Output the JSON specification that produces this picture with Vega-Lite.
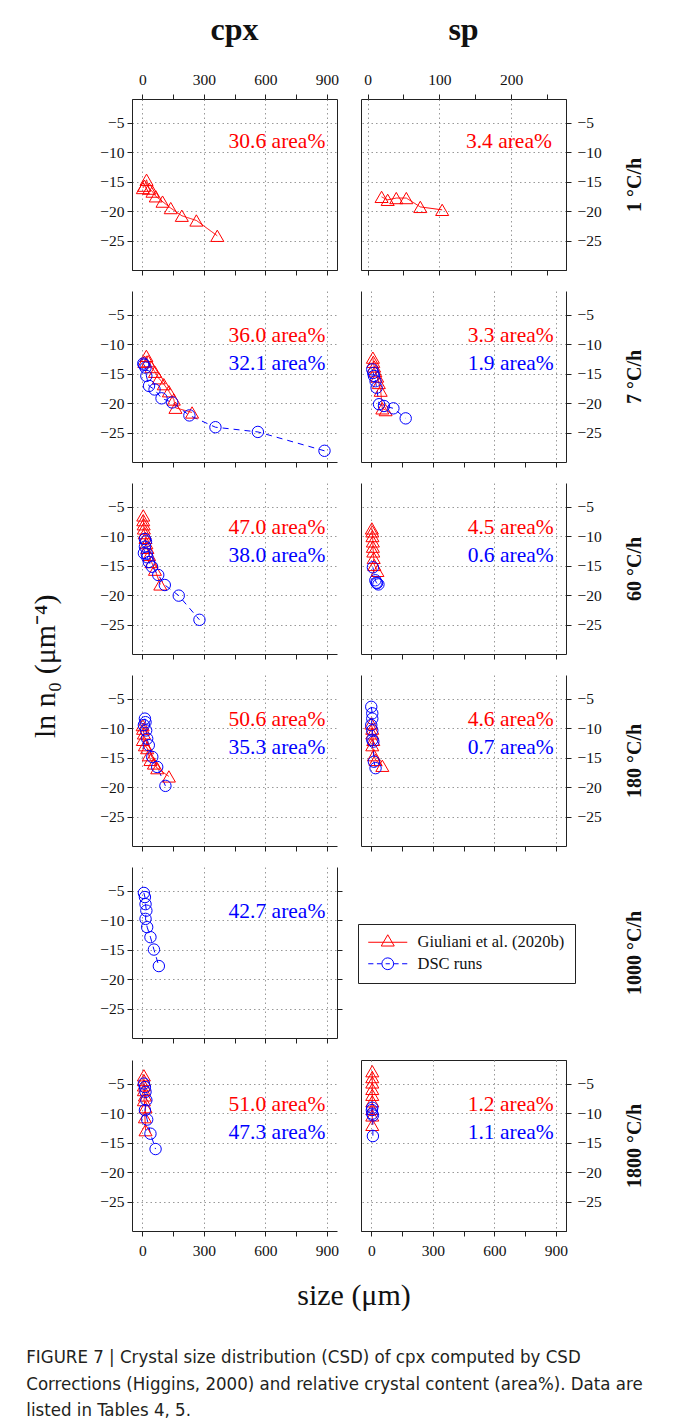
{
"$schema":"https://vega.github.io/schema/vega-lite/v6.json",
"background":"white",
"padding":{"left":26,"top":13,"right":4,"bottom":2},
"config":{"font":"Liberation Serif","view":{"stroke":null},
"axis":{"labelFont":"Liberation Serif","labelFontSize":15.5,"labelColor":"#111","domainColor":"#222","tickColor":"#222","tickSize":5,"gridDash":[1.5,3],"gridColor":"#999","gridWidth":1,"labelFlush":false,"labelOverlap":false,"titleFont":"Liberation Serif","titleColor":"#111"},
"point":{"opacity":1},"title":{"font":"Liberation Serif","color":"#111"}},
"datasets":{
"pts":[
{"p":"c1","s":"G","i":1,"x":3,"y":-16.1},{"p":"c1","s":"G","i":2,"x":10,"y":-15.7},{"p":"c1","s":"G","i":3,"x":21,"y":-14.7},{"p":"c1","s":"G","i":4,"x":34,"y":-16.2},{"p":"c1","s":"G","i":5,"x":50,"y":-16.7},{"p":"c1","s":"G","i":6,"x":66,"y":-17.5},{"p":"c1","s":"G","i":7,"x":99,"y":-18.4},{"p":"c1","s":"G","i":8,"x":139,"y":-19.5},{"p":"c1","s":"G","i":9,"x":193,"y":-20.8},{"p":"c1","s":"G","i":10,"x":264,"y":-21.6},{"p":"c1","s":"G","i":11,"x":366,"y":-24.2},
{"p":"s1","s":"G","i":1,"x":19.5,"y":-17.6},{"p":"s1","s":"G","i":2,"x":28,"y":-18.1},{"p":"s1","s":"G","i":3,"x":40,"y":-17.8},{"p":"s1","s":"G","i":4,"x":54,"y":-17.8},{"p":"s1","s":"G","i":5,"x":73.5,"y":-19.3},{"p":"s1","s":"G","i":6,"x":104,"y":-19.8},
{"p":"c2","s":"G","i":1,"x":10,"y":-13.0},{"p":"c2","s":"G","i":2,"x":20,"y":-12.0},{"p":"c2","s":"G","i":3,"x":29,"y":-12.9},{"p":"c2","s":"G","i":4,"x":45,"y":-13.9},{"p":"c2","s":"G","i":5,"x":62,"y":-14.7},{"p":"c2","s":"G","i":6,"x":81,"y":-15.8},{"p":"c2","s":"G","i":7,"x":105,"y":-16.8},{"p":"c2","s":"G","i":8,"x":130,"y":-18.0},{"p":"c2","s":"G","i":9,"x":154,"y":-19.4},{"p":"c2","s":"G","i":10,"x":162,"y":-20.8},{"p":"c2","s":"G","i":11,"x":243,"y":-21.6},
{"p":"c2","s":"D","i":1,"x":5,"y":-13.3},{"p":"c2","s":"D","i":2,"x":8,"y":-13.5},{"p":"c2","s":"D","i":3,"x":16,"y":-14.0},{"p":"c2","s":"D","i":4,"x":20,"y":-15.4},{"p":"c2","s":"D","i":5,"x":33,"y":-17.1},{"p":"c2","s":"D","i":6,"x":60,"y":-17.7},{"p":"c2","s":"D","i":7,"x":94,"y":-19.2},{"p":"c2","s":"D","i":8,"x":146,"y":-19.9},{"p":"c2","s":"D","i":9,"x":230,"y":-22.1},{"p":"c2","s":"D","i":10,"x":357,"y":-24.1},{"p":"c2","s":"D","i":11,"x":564,"y":-24.9},{"p":"c2","s":"D","i":12,"x":889,"y":-28.1},
{"p":"s2","s":"G","i":1,"x":8,"y":-12.3},{"p":"s2","s":"G","i":2,"x":10,"y":-13.0},{"p":"s2","s":"G","i":3,"x":14,"y":-13.8},{"p":"s2","s":"G","i":4,"x":20,"y":-14.6},{"p":"s2","s":"G","i":5,"x":29,"y":-15.5},{"p":"s2","s":"G","i":6,"x":37,"y":-16.6},{"p":"s2","s":"G","i":7,"x":46,"y":-17.9},{"p":"s2","s":"G","i":8,"x":54,"y":-20.9},{"p":"s2","s":"G","i":9,"x":70,"y":-21.2},
{"p":"s2","s":"D","i":1,"x":5,"y":-14.3},{"p":"s2","s":"D","i":2,"x":10,"y":-14.9},{"p":"s2","s":"D","i":3,"x":13,"y":-15.4},{"p":"s2","s":"D","i":4,"x":21,"y":-16.3},{"p":"s2","s":"D","i":5,"x":26,"y":-17.4},{"p":"s2","s":"D","i":6,"x":38,"y":-20.2},{"p":"s2","s":"D","i":7,"x":62,"y":-20.5},{"p":"s2","s":"D","i":8,"x":108,"y":-20.9},{"p":"s2","s":"D","i":9,"x":168,"y":-22.6},
{"p":"c3","s":"G","i":1,"x":5,"y":-6.5},{"p":"c3","s":"G","i":2,"x":5,"y":-7.3},{"p":"c3","s":"G","i":3,"x":7,"y":-8.0},{"p":"c3","s":"G","i":4,"x":8,"y":-8.7},{"p":"c3","s":"G","i":5,"x":12,"y":-9.5},{"p":"c3","s":"G","i":6,"x":16,"y":-10.3},{"p":"c3","s":"G","i":7,"x":20,"y":-11.2},{"p":"c3","s":"G","i":8,"x":25,"y":-12.0},{"p":"c3","s":"G","i":9,"x":33,"y":-13.2},{"p":"c3","s":"G","i":10,"x":45,"y":-14.4},{"p":"c3","s":"G","i":11,"x":62,"y":-15.7},{"p":"c3","s":"G","i":12,"x":88,"y":-18.2},
{"p":"c3","s":"D","i":1,"x":13,"y":-10.5},{"p":"c3","s":"D","i":2,"x":18,"y":-10.9},{"p":"c3","s":"D","i":3,"x":13,"y":-11.8},{"p":"c3","s":"D","i":4,"x":8,"y":-12.9},{"p":"c3","s":"D","i":5,"x":22,"y":-13.0},{"p":"c3","s":"D","i":6,"x":25,"y":-13.6},{"p":"c3","s":"D","i":7,"x":32,"y":-14.4},{"p":"c3","s":"D","i":8,"x":48,"y":-15.2},{"p":"c3","s":"D","i":9,"x":78,"y":-16.6},{"p":"c3","s":"D","i":10,"x":110,"y":-18.3},{"p":"c3","s":"D","i":11,"x":178,"y":-20.1},{"p":"c3","s":"D","i":12,"x":279,"y":-24.2},
{"p":"s3","s":"G","i":1,"x":3,"y":-8.7},{"p":"s3","s":"G","i":2,"x":5,"y":-9.2},{"p":"s3","s":"G","i":3,"x":6,"y":-10.0},{"p":"s3","s":"G","i":4,"x":8,"y":-10.9},{"p":"s3","s":"G","i":5,"x":8,"y":-11.8},{"p":"s3","s":"G","i":6,"x":10,"y":-12.6},{"p":"s3","s":"G","i":7,"x":12,"y":-13.7},{"p":"s3","s":"G","i":8,"x":15,"y":-14.9},{"p":"s3","s":"G","i":9,"x":30,"y":-15.9},
{"p":"s3","s":"D","i":1,"x":8,"y":-15.3},{"p":"s3","s":"D","i":2,"x":20,"y":-17.5},{"p":"s3","s":"D","i":3,"x":25,"y":-17.9},{"p":"s3","s":"D","i":4,"x":28,"y":-18.0},{"p":"s3","s":"D","i":5,"x":35,"y":-18.2},
{"p":"c4","s":"G","i":1,"x":2,"y":-9.5},{"p":"c4","s":"G","i":2,"x":4,"y":-10.1},{"p":"c4","s":"G","i":3,"x":8,"y":-10.9},{"p":"c4","s":"G","i":4,"x":3,"y":-12.0},{"p":"c4","s":"G","i":5,"x":13,"y":-12.9},{"p":"c4","s":"G","i":6,"x":24,"y":-13.4},{"p":"c4","s":"G","i":7,"x":32,"y":-14.6},{"p":"c4","s":"G","i":8,"x":40,"y":-15.4},{"p":"c4","s":"G","i":9,"x":57,"y":-16.0},{"p":"c4","s":"G","i":10,"x":73,"y":-16.8},{"p":"c4","s":"G","i":11,"x":130,"y":-18.2},
{"p":"c4","s":"D","i":1,"x":13,"y":-8.4},{"p":"c4","s":"D","i":2,"x":16,"y":-9.0},{"p":"c4","s":"D","i":3,"x":8,"y":-9.5},{"p":"c4","s":"D","i":4,"x":19,"y":-10.4},{"p":"c4","s":"D","i":5,"x":24,"y":-11.8},{"p":"c4","s":"D","i":6,"x":32,"y":-12.9},{"p":"c4","s":"D","i":7,"x":49,"y":-14.9},{"p":"c4","s":"D","i":8,"x":73,"y":-16.6},{"p":"c4","s":"D","i":9,"x":113,"y":-19.8},
{"p":"s4","s":"G","i":1,"x":0,"y":-9.2},{"p":"s4","s":"G","i":2,"x":5,"y":-10.1},{"p":"s4","s":"G","i":3,"x":5,"y":-10.9},{"p":"s4","s":"G","i":4,"x":10,"y":-12.0},{"p":"s4","s":"G","i":5,"x":5,"y":-12.9},{"p":"s4","s":"G","i":6,"x":13,"y":-14.6},{"p":"s4","s":"G","i":7,"x":21,"y":-15.4},{"p":"s4","s":"G","i":8,"x":54,"y":-16.4},
{"p":"s4","s":"D","i":1,"x":0,"y":-6.4},{"p":"s4","s":"D","i":2,"x":5,"y":-7.5},{"p":"s4","s":"D","i":3,"x":5,"y":-8.4},{"p":"s4","s":"D","i":4,"x":0,"y":-9.5},{"p":"s4","s":"D","i":5,"x":5,"y":-10.4},{"p":"s4","s":"D","i":6,"x":5,"y":-12.0},{"p":"s4","s":"D","i":7,"x":10,"y":-12.3},{"p":"s4","s":"D","i":8,"x":13,"y":-15.7},{"p":"s4","s":"D","i":9,"x":21,"y":-16.8},
{"p":"c5","s":"D","i":1,"x":8,"y":-5.4},{"p":"c5","s":"D","i":2,"x":13,"y":-6.1},{"p":"c5","s":"D","i":3,"x":16,"y":-7.3},{"p":"c5","s":"D","i":4,"x":20,"y":-8.4},{"p":"c5","s":"D","i":5,"x":16,"y":-9.8},{"p":"c5","s":"D","i":6,"x":24,"y":-11.2},{"p":"c5","s":"D","i":7,"x":40,"y":-12.9},{"p":"c5","s":"D","i":8,"x":57,"y":-15.0},{"p":"c5","s":"D","i":9,"x":81,"y":-17.8},
{"p":"c6","s":"G","i":1,"x":8,"y":-3.6},{"p":"c6","s":"G","i":2,"x":8,"y":-4.4},{"p":"c6","s":"G","i":3,"x":8,"y":-5.3},{"p":"c6","s":"G","i":4,"x":8,"y":-6.1},{"p":"c6","s":"G","i":5,"x":13,"y":-7.0},{"p":"c6","s":"G","i":6,"x":8,"y":-7.8},{"p":"c6","s":"G","i":7,"x":16,"y":-9.0},{"p":"c6","s":"G","i":8,"x":13,"y":-10.7},{"p":"c6","s":"G","i":9,"x":16,"y":-12.9},
{"p":"c6","s":"D","i":1,"x":8,"y":-5.0},{"p":"c6","s":"D","i":2,"x":13,"y":-5.6},{"p":"c6","s":"D","i":3,"x":16,"y":-6.4},{"p":"c6","s":"D","i":4,"x":20,"y":-7.8},{"p":"c6","s":"D","i":5,"x":13,"y":-9.5},{"p":"c6","s":"D","i":6,"x":24,"y":-11.1},{"p":"c6","s":"D","i":7,"x":40,"y":-13.5},{"p":"c6","s":"D","i":8,"x":65,"y":-16.1},
{"p":"s6","s":"G","i":1,"x":5,"y":-2.9},{"p":"s6","s":"G","i":2,"x":5,"y":-3.9},{"p":"s6","s":"G","i":3,"x":5,"y":-4.8},{"p":"s6","s":"G","i":4,"x":5,"y":-5.9},{"p":"s6","s":"G","i":5,"x":5,"y":-6.9},{"p":"s6","s":"G","i":6,"x":5,"y":-8.0},{"p":"s6","s":"G","i":7,"x":5,"y":-9.3},{"p":"s6","s":"G","i":8,"x":5,"y":-10.4},{"p":"s6","s":"G","i":9,"x":5,"y":-12.0},
{"p":"s6","s":"D","i":1,"x":5,"y":-9.1},{"p":"s6","s":"D","i":2,"x":3,"y":-9.5},{"p":"s6","s":"D","i":3,"x":5,"y":-10.1},{"p":"s6","s":"D","i":4,"x":8,"y":-10.4},{"p":"s6","s":"D","i":5,"x":8,"y":-13.9}
],
"lab":[
{"p":"c1","s":"G","t":"30.6 area%"},{"p":"s1","s":"G","t":"3.4 area%"},
{"p":"c2","s":"G","t":"36.0 area%"},{"p":"c2","s":"D","t":"32.1 area%"},
{"p":"s2","s":"G","t":"3.3 area%"},{"p":"s2","s":"D","t":"1.9 area%"},
{"p":"c3","s":"G","t":"47.0 area%"},{"p":"c3","s":"D","t":"38.0 area%"},
{"p":"s3","s":"G","t":"4.5 area%"},{"p":"s3","s":"D","t":"0.6 area%"},
{"p":"c4","s":"G","t":"50.6 area%"},{"p":"c4","s":"D","t":"35.3 area%"},
{"p":"s4","s":"G","t":"4.6 area%"},{"p":"s4","s":"D","t":"0.7 area%"},
{"p":"c5","s":"D","t":"42.7 area%"},
{"p":"c6","s":"G","t":"51.0 area%"},{"p":"c6","s":"D","t":"47.3 area%"},
{"p":"s6","s":"G","t":"1.2 area%"},{"p":"s6","s":"D","t":"1.1 area%"}
]},
"title":{"text":["FIGURE 7 | Crystal size distribution (CSD) of cpx computed by CSD","Corrections (Higgins, 2000) and relative crystal content (area%). Data are","listed in Tables 4, 5."],"orient":"bottom","anchor":"start","font":"DejaVu Sans Condensed, Liberation Sans, sans-serif","fontSize":18.5,"fontWeight":"normal","lineHeight":26.5,"color":"#231f20","offset":37,"dx":-5},
"vconcat":[{
"title":{"text":"size (μm)","orient":"bottom","anchor":"middle","fontSize":30,"fontWeight":"normal","font":"Liberation Serif","offset":22,"dx":16},
"vconcat":[{
"title":{"text":"ln n₀ (μm⁻⁴)","orient":"left","anchor":"middle","fontSize":30,"fontWeight":"normal","font":"Liberation Serif","offset":38,"dx":-30},
"spacing":15,
"vconcat":[
{"spacing":24,"bounds":"flush","hconcat":[
{"width":205,"height":171,"view":{"stroke":"#222"},
"title":{"text":"cpx","fontSize":32,"fontWeight":"bold","font":"Liberation Serif","offset":25},
"resolve":{"axis":{"x":"independent","y":"independent"}},
"layer":[
{"data":{"name":"pts"},"transform":[{"filter":"datum.p==='c1'"}],"mark":{"type":"line","strokeWidth":1},
"encoding":{"x":{"field":"x","type":"quantitative","scale":{"domain":[-50,950],"nice":false,"zero":false},"axis":{"orient":"bottom","values":[0,150,300,450,600,750,900],"labels":false,"grid":true,"gridOpacity":{"condition":{"test":"datum.value % 300 === 0","value":1},"value":0},"title":null}},
"y":{"field":"y","type":"quantitative","scale":{"domain":[-30,-1],"nice":false,"zero":false},"axis":{"orient":"left","values":[-5,-10,-15,-20,-25],"labelPadding":3,"grid":true,"title":null}},
"detail":{"field":"s"},"order":{"field":"i","type":"quantitative"},
"color":{"condition":{"test":"datum.s==='G'","value":"#ff0000"},"value":"#0000ff"},
"strokeDash":{"condition":{"test":"datum.s==='D'","value":[6,5]},"value":[1,0]}}},
{"data":{"name":"pts"},"transform":[{"filter":"datum.p==='c1'"}],"mark":{"type":"point","filled":false,"strokeWidth":1,"opacity":1},
"encoding":{"x":{"field":"x","type":"quantitative","axis":{"orient":"top","values":[0,150,300,450,600,750,900],"labelExpr":"datum.value % 300 === 0 ? datum.label : ''","labelPadding":7,"grid":false,"domain":false,"title":null}},
"y":{"field":"y","type":"quantitative","axis":null},
"shape":{"condition":{"test":"datum.s==='G'","value":"triangle-up"},"value":"circle"},
"size":{"condition":{"test":"datum.s==='G'","value":170},"value":130},
"color":{"condition":{"test":"datum.s==='G'","value":"#ff0000"},"value":"#0000ff"}}},
{"data":{"name":"lab"},"transform":[{"filter":"datum.p==='c1' && datum.s==='G'"}],"mark":{"type":"text","align":"right","baseline":"middle","font":"Liberation Serif","fontSize":21.5,"color":"#ff0000"},
"encoding":{"x":{"datum":893,"type":"quantitative","axis":null},"y":{"datum":-8.3,"type":"quantitative","axis":null},"text":{"field":"t"}}}
]},
{"width":205,"height":171,"view":{"stroke":"#222"},
"title":{"text":"sp","fontSize":32,"fontWeight":"bold","font":"Liberation Serif","offset":25},
"resolve":{"axis":{"x":"independent","y":"independent"}},
"layer":[
{"data":{"name":"pts"},"transform":[{"filter":"datum.p==='s1'"}],"mark":{"type":"line","strokeWidth":1},
"encoding":{"x":{"field":"x","type":"quantitative","scale":{"domain":[-9.2,276.7],"nice":false,"zero":false},"axis":{"orient":"bottom","values":[0,50,100,150,200,250],"labels":false,"grid":true,"gridOpacity":{"condition":{"test":"datum.value % 100 === 0","value":1},"value":0},"title":null}},
"y":{"field":"y","type":"quantitative","scale":{"domain":[-30,-1],"nice":false,"zero":false},"axis":{"orient":"right","values":[-5,-10,-15,-20,-25],"labelPadding":6,"grid":true,"title":"1 °C/h","titleFontSize":20,"titleFontWeight":"bold","titleAngle":270,"titleBaseline":"top","titlePadding":23}},
"detail":{"field":"s"},"order":{"field":"i","type":"quantitative"},
"color":{"condition":{"test":"datum.s==='G'","value":"#ff0000"},"value":"#0000ff"},
"strokeDash":{"condition":{"test":"datum.s==='D'","value":[6,5]},"value":[1,0]}}},
{"data":{"name":"pts"},"transform":[{"filter":"datum.p==='s1'"}],"mark":{"type":"point","filled":false,"strokeWidth":1,"opacity":1},
"encoding":{"x":{"field":"x","type":"quantitative","axis":{"orient":"top","values":[0,50,100,150,200,250],"labelExpr":"datum.value % 100 === 0 ? datum.label : ''","labelPadding":7,"grid":false,"domain":false,"title":null}},
"y":{"field":"y","type":"quantitative","axis":null},
"shape":{"condition":{"test":"datum.s==='G'","value":"triangle-up"},"value":"circle"},
"size":{"condition":{"test":"datum.s==='G'","value":170},"value":130},
"color":{"condition":{"test":"datum.s==='G'","value":"#ff0000"},"value":"#0000ff"}}},
{"data":{"name":"lab"},"transform":[{"filter":"datum.p==='s1' && datum.s==='G'"}],"mark":{"type":"text","align":"right","baseline":"middle","font":"Liberation Serif","fontSize":21.5,"color":"#ff0000"},
"encoding":{"x":{"datum":257,"type":"quantitative","axis":null},"y":{"datum":-8.3,"type":"quantitative","axis":null},"text":{"field":"t"}}}
]}
]},
{"spacing":24,"bounds":"flush","hconcat":[
{"width":205,"height":171,
"resolve":{"axis":{"x":"independent","y":"independent"}},
"layer":[
{"data":{"name":"pts"},"transform":[{"filter":"datum.p==='c2'"}],"mark":{"type":"line","strokeWidth":1},
"encoding":{"x":{"field":"x","type":"quantitative","scale":{"domain":[-50,950],"nice":false,"zero":false},"axis":{"orient":"bottom","values":[0,150,300,450,600,750,900],"labels":false,"grid":true,"gridOpacity":{"condition":{"test":"datum.value % 300 === 0","value":1},"value":0},"title":null}},
"y":{"field":"y","type":"quantitative","scale":{"domain":[-30,-1],"nice":false,"zero":false},"axis":{"orient":"left","values":[-5,-10,-15,-20,-25],"labelPadding":3,"grid":true,"title":null}},
"detail":{"field":"s"},"order":{"field":"i","type":"quantitative"},
"color":{"condition":{"test":"datum.s==='G'","value":"#ff0000"},"value":"#0000ff"},
"strokeDash":{"condition":{"test":"datum.s==='D'","value":[6,5]},"value":[1,0]}}},
{"data":{"name":"pts"},"transform":[{"filter":"datum.p==='c2'"}],"mark":{"type":"point","filled":false,"strokeWidth":1,"opacity":1},
"encoding":{"x":{"field":"x","type":"quantitative","axis":null},"y":{"field":"y","type":"quantitative","axis":null},
"shape":{"condition":{"test":"datum.s==='G'","value":"triangle-up"},"value":"circle"},
"size":{"condition":{"test":"datum.s==='G'","value":170},"value":130},
"color":{"condition":{"test":"datum.s==='G'","value":"#ff0000"},"value":"#0000ff"}}},
{"data":{"name":"lab"},"transform":[{"filter":"datum.p==='c2' && datum.s==='G'"}],"mark":{"type":"text","align":"right","baseline":"middle","font":"Liberation Serif","fontSize":21.5,"color":"#ff0000"},
"encoding":{"x":{"datum":893,"type":"quantitative","axis":null},"y":{"datum":-8.6,"type":"quantitative","axis":null},"text":{"field":"t"}}},
{"data":{"name":"lab"},"transform":[{"filter":"datum.p==='c2' && datum.s==='D'"}],"mark":{"type":"text","align":"right","baseline":"middle","font":"Liberation Serif","fontSize":21.5,"color":"#0000ff"},
"encoding":{"x":{"datum":893,"type":"quantitative","axis":null},"y":{"datum":-13.4,"type":"quantitative","axis":null},"text":{"field":"t"}}}
]},
{"width":205,"height":171,
"resolve":{"axis":{"x":"independent","y":"independent"}},
"layer":[
{"data":{"name":"pts"},"transform":[{"filter":"datum.p==='s2'"}],"mark":{"type":"line","strokeWidth":1},
"encoding":{"x":{"field":"x","type":"quantitative","scale":{"domain":[-50,950],"nice":false,"zero":false},"axis":{"orient":"bottom","values":[0,150,300,450,600,750,900],"labels":false,"grid":true,"gridOpacity":{"condition":{"test":"datum.value % 300 === 0","value":1},"value":0},"title":null}},
"y":{"field":"y","type":"quantitative","scale":{"domain":[-30,-1],"nice":false,"zero":false},"axis":{"orient":"right","values":[-5,-10,-15,-20,-25],"labelPadding":6,"grid":true,"title":"7 °C/h","titleFontSize":20,"titleFontWeight":"bold","titleAngle":270,"titleBaseline":"top","titlePadding":23}},
"detail":{"field":"s"},"order":{"field":"i","type":"quantitative"},
"color":{"condition":{"test":"datum.s==='G'","value":"#ff0000"},"value":"#0000ff"},
"strokeDash":{"condition":{"test":"datum.s==='D'","value":[6,5]},"value":[1,0]}}},
{"data":{"name":"pts"},"transform":[{"filter":"datum.p==='s2'"}],"mark":{"type":"point","filled":false,"strokeWidth":1,"opacity":1},
"encoding":{"x":{"field":"x","type":"quantitative","axis":null},"y":{"field":"y","type":"quantitative","axis":{"orient":"left","labels":false,"ticks":false,"grid":false,"domain":true,"title":null}},
"shape":{"condition":{"test":"datum.s==='G'","value":"triangle-up"},"value":"circle"},
"size":{"condition":{"test":"datum.s==='G'","value":170},"value":130},
"color":{"condition":{"test":"datum.s==='G'","value":"#ff0000"},"value":"#0000ff"}}},
{"data":{"name":"lab"},"transform":[{"filter":"datum.p==='s2' && datum.s==='G'"}],"mark":{"type":"text","align":"right","baseline":"middle","font":"Liberation Serif","fontSize":21.5,"color":"#ff0000"},
"encoding":{"x":{"datum":890,"type":"quantitative","axis":null},"y":{"datum":-8.6,"type":"quantitative","axis":null},"text":{"field":"t"}}},
{"data":{"name":"lab"},"transform":[{"filter":"datum.p==='s2' && datum.s==='D'"}],"mark":{"type":"text","align":"right","baseline":"middle","font":"Liberation Serif","fontSize":21.5,"color":"#0000ff"},
"encoding":{"x":{"datum":890,"type":"quantitative","axis":null},"y":{"datum":-13.4,"type":"quantitative","axis":null},"text":{"field":"t"}}}
]}
]},
{"spacing":24,"bounds":"flush","hconcat":[
{"width":205,"height":171,
"resolve":{"axis":{"x":"independent","y":"independent"}},
"layer":[
{"data":{"name":"pts"},"transform":[{"filter":"datum.p==='c3'"}],"mark":{"type":"line","strokeWidth":1},
"encoding":{"x":{"field":"x","type":"quantitative","scale":{"domain":[-50,950],"nice":false,"zero":false},"axis":{"orient":"bottom","values":[0,150,300,450,600,750,900],"labels":false,"grid":true,"gridOpacity":{"condition":{"test":"datum.value % 300 === 0","value":1},"value":0},"title":null}},
"y":{"field":"y","type":"quantitative","scale":{"domain":[-30,-1],"nice":false,"zero":false},"axis":{"orient":"left","values":[-5,-10,-15,-20,-25],"labelPadding":3,"grid":true,"title":null}},
"detail":{"field":"s"},"order":{"field":"i","type":"quantitative"},
"color":{"condition":{"test":"datum.s==='G'","value":"#ff0000"},"value":"#0000ff"},
"strokeDash":{"condition":{"test":"datum.s==='D'","value":[6,5]},"value":[1,0]}}},
{"data":{"name":"pts"},"transform":[{"filter":"datum.p==='c3'"}],"mark":{"type":"point","filled":false,"strokeWidth":1,"opacity":1},
"encoding":{"x":{"field":"x","type":"quantitative","axis":null},"y":{"field":"y","type":"quantitative","axis":null},
"shape":{"condition":{"test":"datum.s==='G'","value":"triangle-up"},"value":"circle"},
"size":{"condition":{"test":"datum.s==='G'","value":170},"value":130},
"color":{"condition":{"test":"datum.s==='G'","value":"#ff0000"},"value":"#0000ff"}}},
{"data":{"name":"lab"},"transform":[{"filter":"datum.p==='c3' && datum.s==='G'"}],"mark":{"type":"text","align":"right","baseline":"middle","font":"Liberation Serif","fontSize":21.5,"color":"#ff0000"},
"encoding":{"x":{"datum":893,"type":"quantitative","axis":null},"y":{"datum":-8.6,"type":"quantitative","axis":null},"text":{"field":"t"}}},
{"data":{"name":"lab"},"transform":[{"filter":"datum.p==='c3' && datum.s==='D'"}],"mark":{"type":"text","align":"right","baseline":"middle","font":"Liberation Serif","fontSize":21.5,"color":"#0000ff"},
"encoding":{"x":{"datum":893,"type":"quantitative","axis":null},"y":{"datum":-13.4,"type":"quantitative","axis":null},"text":{"field":"t"}}}
]},
{"width":205,"height":171,
"resolve":{"axis":{"x":"independent","y":"independent"}},
"layer":[
{"data":{"name":"pts"},"transform":[{"filter":"datum.p==='s3'"}],"mark":{"type":"line","strokeWidth":1},
"encoding":{"x":{"field":"x","type":"quantitative","scale":{"domain":[-50,950],"nice":false,"zero":false},"axis":{"orient":"bottom","values":[0,150,300,450,600,750,900],"labels":false,"grid":true,"gridOpacity":{"condition":{"test":"datum.value % 300 === 0","value":1},"value":0},"title":null}},
"y":{"field":"y","type":"quantitative","scale":{"domain":[-30,-1],"nice":false,"zero":false},"axis":{"orient":"right","values":[-5,-10,-15,-20,-25],"labelPadding":6,"grid":true,"title":"60 °C/h","titleFontSize":20,"titleFontWeight":"bold","titleAngle":270,"titleBaseline":"top","titlePadding":23}},
"detail":{"field":"s"},"order":{"field":"i","type":"quantitative"},
"color":{"condition":{"test":"datum.s==='G'","value":"#ff0000"},"value":"#0000ff"},
"strokeDash":{"condition":{"test":"datum.s==='D'","value":[6,5]},"value":[1,0]}}},
{"data":{"name":"pts"},"transform":[{"filter":"datum.p==='s3'"}],"mark":{"type":"point","filled":false,"strokeWidth":1,"opacity":1},
"encoding":{"x":{"field":"x","type":"quantitative","axis":null},"y":{"field":"y","type":"quantitative","axis":{"orient":"left","labels":false,"ticks":false,"grid":false,"domain":true,"title":null}},
"shape":{"condition":{"test":"datum.s==='G'","value":"triangle-up"},"value":"circle"},
"size":{"condition":{"test":"datum.s==='G'","value":170},"value":130},
"color":{"condition":{"test":"datum.s==='G'","value":"#ff0000"},"value":"#0000ff"}}},
{"data":{"name":"lab"},"transform":[{"filter":"datum.p==='s3' && datum.s==='G'"}],"mark":{"type":"text","align":"right","baseline":"middle","font":"Liberation Serif","fontSize":21.5,"color":"#ff0000"},
"encoding":{"x":{"datum":890,"type":"quantitative","axis":null},"y":{"datum":-8.6,"type":"quantitative","axis":null},"text":{"field":"t"}}},
{"data":{"name":"lab"},"transform":[{"filter":"datum.p==='s3' && datum.s==='D'"}],"mark":{"type":"text","align":"right","baseline":"middle","font":"Liberation Serif","fontSize":21.5,"color":"#0000ff"},
"encoding":{"x":{"datum":890,"type":"quantitative","axis":null},"y":{"datum":-13.4,"type":"quantitative","axis":null},"text":{"field":"t"}}}
]}
]},
{"spacing":24,"bounds":"flush","hconcat":[
{"width":205,"height":171,
"resolve":{"axis":{"x":"independent","y":"independent"}},
"layer":[
{"data":{"name":"pts"},"transform":[{"filter":"datum.p==='c4'"}],"mark":{"type":"line","strokeWidth":1},
"encoding":{"x":{"field":"x","type":"quantitative","scale":{"domain":[-50,950],"nice":false,"zero":false},"axis":{"orient":"bottom","values":[0,150,300,450,600,750,900],"labels":false,"grid":true,"gridOpacity":{"condition":{"test":"datum.value % 300 === 0","value":1},"value":0},"title":null}},
"y":{"field":"y","type":"quantitative","scale":{"domain":[-30,-1],"nice":false,"zero":false},"axis":{"orient":"left","values":[-5,-10,-15,-20,-25],"labelPadding":3,"grid":true,"title":null}},
"detail":{"field":"s"},"order":{"field":"i","type":"quantitative"},
"color":{"condition":{"test":"datum.s==='G'","value":"#ff0000"},"value":"#0000ff"},
"strokeDash":{"condition":{"test":"datum.s==='D'","value":[6,5]},"value":[1,0]}}},
{"data":{"name":"pts"},"transform":[{"filter":"datum.p==='c4'"}],"mark":{"type":"point","filled":false,"strokeWidth":1,"opacity":1},
"encoding":{"x":{"field":"x","type":"quantitative","axis":null},"y":{"field":"y","type":"quantitative","axis":null},
"shape":{"condition":{"test":"datum.s==='G'","value":"triangle-up"},"value":"circle"},
"size":{"condition":{"test":"datum.s==='G'","value":170},"value":130},
"color":{"condition":{"test":"datum.s==='G'","value":"#ff0000"},"value":"#0000ff"}}},
{"data":{"name":"lab"},"transform":[{"filter":"datum.p==='c4' && datum.s==='G'"}],"mark":{"type":"text","align":"right","baseline":"middle","font":"Liberation Serif","fontSize":21.5,"color":"#ff0000"},
"encoding":{"x":{"datum":893,"type":"quantitative","axis":null},"y":{"datum":-8.6,"type":"quantitative","axis":null},"text":{"field":"t"}}},
{"data":{"name":"lab"},"transform":[{"filter":"datum.p==='c4' && datum.s==='D'"}],"mark":{"type":"text","align":"right","baseline":"middle","font":"Liberation Serif","fontSize":21.5,"color":"#0000ff"},
"encoding":{"x":{"datum":893,"type":"quantitative","axis":null},"y":{"datum":-13.4,"type":"quantitative","axis":null},"text":{"field":"t"}}}
]},
{"width":205,"height":171,
"resolve":{"axis":{"x":"independent","y":"independent"}},
"layer":[
{"data":{"name":"pts"},"transform":[{"filter":"datum.p==='s4'"}],"mark":{"type":"line","strokeWidth":1},
"encoding":{"x":{"field":"x","type":"quantitative","scale":{"domain":[-50,950],"nice":false,"zero":false},"axis":{"orient":"bottom","values":[0,150,300,450,600,750,900],"labels":false,"grid":true,"gridOpacity":{"condition":{"test":"datum.value % 300 === 0","value":1},"value":0},"title":null}},
"y":{"field":"y","type":"quantitative","scale":{"domain":[-30,-1],"nice":false,"zero":false},"axis":{"orient":"right","values":[-5,-10,-15,-20,-25],"labelPadding":6,"grid":true,"title":"180 °C/h","titleFontSize":20,"titleFontWeight":"bold","titleAngle":270,"titleBaseline":"top","titlePadding":23}},
"detail":{"field":"s"},"order":{"field":"i","type":"quantitative"},
"color":{"condition":{"test":"datum.s==='G'","value":"#ff0000"},"value":"#0000ff"},
"strokeDash":{"condition":{"test":"datum.s==='D'","value":[6,5]},"value":[1,0]}}},
{"data":{"name":"pts"},"transform":[{"filter":"datum.p==='s4'"}],"mark":{"type":"point","filled":false,"strokeWidth":1,"opacity":1},
"encoding":{"x":{"field":"x","type":"quantitative","axis":null},"y":{"field":"y","type":"quantitative","axis":{"orient":"left","labels":false,"ticks":false,"grid":false,"domain":true,"title":null}},
"shape":{"condition":{"test":"datum.s==='G'","value":"triangle-up"},"value":"circle"},
"size":{"condition":{"test":"datum.s==='G'","value":170},"value":130},
"color":{"condition":{"test":"datum.s==='G'","value":"#ff0000"},"value":"#0000ff"}}},
{"data":{"name":"lab"},"transform":[{"filter":"datum.p==='s4' && datum.s==='G'"}],"mark":{"type":"text","align":"right","baseline":"middle","font":"Liberation Serif","fontSize":21.5,"color":"#ff0000"},
"encoding":{"x":{"datum":890,"type":"quantitative","axis":null},"y":{"datum":-8.6,"type":"quantitative","axis":null},"text":{"field":"t"}}},
{"data":{"name":"lab"},"transform":[{"filter":"datum.p==='s4' && datum.s==='D'"}],"mark":{"type":"text","align":"right","baseline":"middle","font":"Liberation Serif","fontSize":21.5,"color":"#0000ff"},
"encoding":{"x":{"datum":890,"type":"quantitative","axis":null},"y":{"datum":-13.4,"type":"quantitative","axis":null},"text":{"field":"t"}}}
]}
]},
{"spacing":24,"bounds":"flush",
"resolve":{"scale":{"color":"independent","shape":"independent"},"legend":{"color":"independent","shape":"independent"}},
"hconcat":[
{"width":205,"height":171,
"resolve":{"axis":{"x":"independent","y":"independent"}},
"layer":[
{"data":{"name":"pts"},"transform":[{"filter":"datum.p==='c5'"}],"mark":{"type":"line","strokeWidth":1},
"encoding":{"x":{"field":"x","type":"quantitative","scale":{"domain":[-50,950],"nice":false,"zero":false},"axis":{"orient":"bottom","values":[0,150,300,450,600,750,900],"labels":false,"grid":true,"gridOpacity":{"condition":{"test":"datum.value % 300 === 0","value":1},"value":0},"title":null}},
"y":{"field":"y","type":"quantitative","scale":{"domain":[-30,-1],"nice":false,"zero":false},"axis":{"orient":"left","values":[-5,-10,-15,-20,-25],"labelPadding":3,"grid":true,"title":null}},
"detail":{"field":"s"},"order":{"field":"i","type":"quantitative"},
"color":{"condition":{"test":"datum.s==='G'","value":"#ff0000"},"value":"#0000ff"},
"strokeDash":{"condition":{"test":"datum.s==='D'","value":[6,5]},"value":[1,0]}}},
{"data":{"name":"pts"},"transform":[{"filter":"datum.p==='c5'"}],"mark":{"type":"point","filled":false,"strokeWidth":1,"opacity":1},
"encoding":{"x":{"field":"x","type":"quantitative","axis":null},"y":{"field":"y","type":"quantitative","axis":{"orient":"right","values":[-5,-10,-15,-20,-25],"labels":false,"grid":false,"domain":true,"title":null}},
"shape":{"condition":{"test":"datum.s==='G'","value":"triangle-up"},"value":"circle"},
"size":{"condition":{"test":"datum.s==='G'","value":170},"value":130},
"color":{"condition":{"test":"datum.s==='G'","value":"#ff0000"},"value":"#0000ff"}}},
{"data":{"name":"lab"},"transform":[{"filter":"datum.p==='c5' && datum.s==='D'"}],"mark":{"type":"text","align":"right","baseline":"middle","font":"Liberation Serif","fontSize":21.5,"color":"#0000ff"},
"encoding":{"x":{"datum":893,"type":"quantitative","axis":null},"y":{"datum":-8.6,"type":"quantitative","axis":null},"text":{"field":"t"}}}
]},
{"width":205,"height":171,
"data":{"values":[{"series":"Giuliani et al. (2020b)"},{"series":"DSC runs"}]},
"transform":[{"filter":"datum.series === 'none'"}],
"mark":{"type":"point","filled":false,"opacity":1},
"encoding":{
"y":{"datum":-10,"type":"quantitative","scale":{"domain":[-30,-1],"nice":false,"zero":false},"axis":{"orient":"right","values":[-5,-10,-15,-20,-25],"labelPadding":6,"labelOpacity":0,"tickOpacity":0,"domain":false,"grid":false,"title":"1000 °C/h","titleFontSize":20,"titleFontWeight":"bold","titleAngle":270,"titleBaseline":"top","titlePadding":23}},
"color":{"field":"series","type":"nominal","scale":{"domain":["Giuliani et al. (2020b)","DSC runs"],"range":["#ff0000","#0000ff"]},
"legend":{"orient":"none","legendX":-3,"legendY":57,"title":null,"strokeColor":"#222","fillColor":"white","padding":10,"symbolSize":196,"symbolStrokeWidth":1,"symbolOffset":11.5,"labelOffset":21.5,"labelFont":"Liberation Serif","labelFontSize":16.5,"labelColor":"#111","labelLimit":300,"rowPadding":4.5,"symbolFillColor":"transparent","symbolOpacity":1}},
"shape":{"field":"series","type":"nominal","scale":{"domain":["Giuliani et al. (2020b)","DSC runs"],"range":["M-2.79,0H2.79M0,-1.07L0.93,0.54L-0.93,0.54Z","M-2.79,0H-2.05M-1.55,0H-0.84M-0.3,0H0.3M0.84,0H1.55M2.05,0H2.79M0.84,0A0.84,0.84,0,1,1,-0.84,0A0.84,0.84,0,1,1,0.84,0"]},
"legend":{"orient":"none","legendX":-3,"legendY":57,"title":null,"strokeColor":"#222","fillColor":"white","padding":10,"symbolSize":196,"symbolStrokeWidth":1,"symbolOffset":11.5,"labelOffset":21.5,"labelFont":"Liberation Serif","labelFontSize":16.5,"labelColor":"#111","labelLimit":300,"rowPadding":4.5,"symbolFillColor":"transparent","symbolOpacity":1}}
}}
]},
{"spacing":24,"bounds":"flush","hconcat":[
{"width":205,"height":171,
"resolve":{"axis":{"x":"independent","y":"independent"}},
"layer":[
{"data":{"name":"pts"},"transform":[{"filter":"datum.p==='c6'"}],"mark":{"type":"line","strokeWidth":1},
"encoding":{"x":{"field":"x","type":"quantitative","scale":{"domain":[-50,950],"nice":false,"zero":false},"axis":{"orient":"bottom","values":[0,150,300,450,600,750,900],"labelExpr":"datum.value % 300 === 0 ? datum.label : ''","labelPadding":7,"grid":true,"gridOpacity":{"condition":{"test":"datum.value % 300 === 0","value":1},"value":0},"title":null}},
"y":{"field":"y","type":"quantitative","scale":{"domain":[-30,-1],"nice":false,"zero":false},"axis":{"orient":"left","values":[-5,-10,-15,-20,-25],"labelPadding":3,"grid":true,"title":null}},
"detail":{"field":"s"},"order":{"field":"i","type":"quantitative"},
"color":{"condition":{"test":"datum.s==='G'","value":"#ff0000"},"value":"#0000ff"},
"strokeDash":{"condition":{"test":"datum.s==='D'","value":[6,5]},"value":[1,0]}}},
{"data":{"name":"pts"},"transform":[{"filter":"datum.p==='c6'"}],"mark":{"type":"point","filled":false,"strokeWidth":1,"opacity":1},
"encoding":{"x":{"field":"x","type":"quantitative","axis":null},"y":{"field":"y","type":"quantitative","axis":null},
"shape":{"condition":{"test":"datum.s==='G'","value":"triangle-up"},"value":"circle"},
"size":{"condition":{"test":"datum.s==='G'","value":170},"value":130},
"color":{"condition":{"test":"datum.s==='G'","value":"#ff0000"},"value":"#0000ff"}}},
{"data":{"name":"lab"},"transform":[{"filter":"datum.p==='c6' && datum.s==='G'"}],"mark":{"type":"text","align":"right","baseline":"middle","font":"Liberation Serif","fontSize":21.5,"color":"#ff0000"},
"encoding":{"x":{"datum":893,"type":"quantitative","axis":null},"y":{"datum":-8.6,"type":"quantitative","axis":null},"text":{"field":"t"}}},
{"data":{"name":"lab"},"transform":[{"filter":"datum.p==='c6' && datum.s==='D'"}],"mark":{"type":"text","align":"right","baseline":"middle","font":"Liberation Serif","fontSize":21.5,"color":"#0000ff"},
"encoding":{"x":{"datum":893,"type":"quantitative","axis":null},"y":{"datum":-13.4,"type":"quantitative","axis":null},"text":{"field":"t"}}}
]},
{"width":205,"height":171,"view":{"stroke":"#222"},
"resolve":{"axis":{"x":"independent","y":"independent"}},
"layer":[
{"data":{"name":"pts"},"transform":[{"filter":"datum.p==='s6'"}],"mark":{"type":"line","strokeWidth":1},
"encoding":{"x":{"field":"x","type":"quantitative","scale":{"domain":[-50,950],"nice":false,"zero":false},"axis":{"orient":"bottom","values":[0,150,300,450,600,750,900],"labelExpr":"datum.value % 300 === 0 ? datum.label : ''","labelPadding":7,"grid":true,"gridOpacity":{"condition":{"test":"datum.value % 300 === 0","value":1},"value":0},"title":null}},
"y":{"field":"y","type":"quantitative","scale":{"domain":[-30,-1],"nice":false,"zero":false},"axis":{"orient":"right","values":[-5,-10,-15,-20,-25],"labelPadding":6,"grid":true,"title":"1800 °C/h","titleFontSize":20,"titleFontWeight":"bold","titleAngle":270,"titleBaseline":"top","titlePadding":23}},
"detail":{"field":"s"},"order":{"field":"i","type":"quantitative"},
"color":{"condition":{"test":"datum.s==='G'","value":"#ff0000"},"value":"#0000ff"},
"strokeDash":{"condition":{"test":"datum.s==='D'","value":[6,5]},"value":[1,0]}}},
{"data":{"name":"pts"},"transform":[{"filter":"datum.p==='s6'"}],"mark":{"type":"point","filled":false,"strokeWidth":1,"opacity":1},
"encoding":{"x":{"field":"x","type":"quantitative","axis":null},"y":{"field":"y","type":"quantitative","axis":null},
"shape":{"condition":{"test":"datum.s==='G'","value":"triangle-up"},"value":"circle"},
"size":{"condition":{"test":"datum.s==='G'","value":170},"value":130},
"color":{"condition":{"test":"datum.s==='G'","value":"#ff0000"},"value":"#0000ff"}}},
{"data":{"name":"lab"},"transform":[{"filter":"datum.p==='s6' && datum.s==='G'"}],"mark":{"type":"text","align":"right","baseline":"middle","font":"Liberation Serif","fontSize":21.5,"color":"#ff0000"},
"encoding":{"x":{"datum":890,"type":"quantitative","axis":null},"y":{"datum":-8.6,"type":"quantitative","axis":null},"text":{"field":"t"}}},
{"data":{"name":"lab"},"transform":[{"filter":"datum.p==='s6' && datum.s==='D'"}],"mark":{"type":"text","align":"right","baseline":"middle","font":"Liberation Serif","fontSize":21.5,"color":"#0000ff"},
"encoding":{"x":{"datum":890,"type":"quantitative","axis":null},"y":{"datum":-13.4,"type":"quantitative","axis":null},"text":{"field":"t"}}}
]}
]}
]}]}]
}
